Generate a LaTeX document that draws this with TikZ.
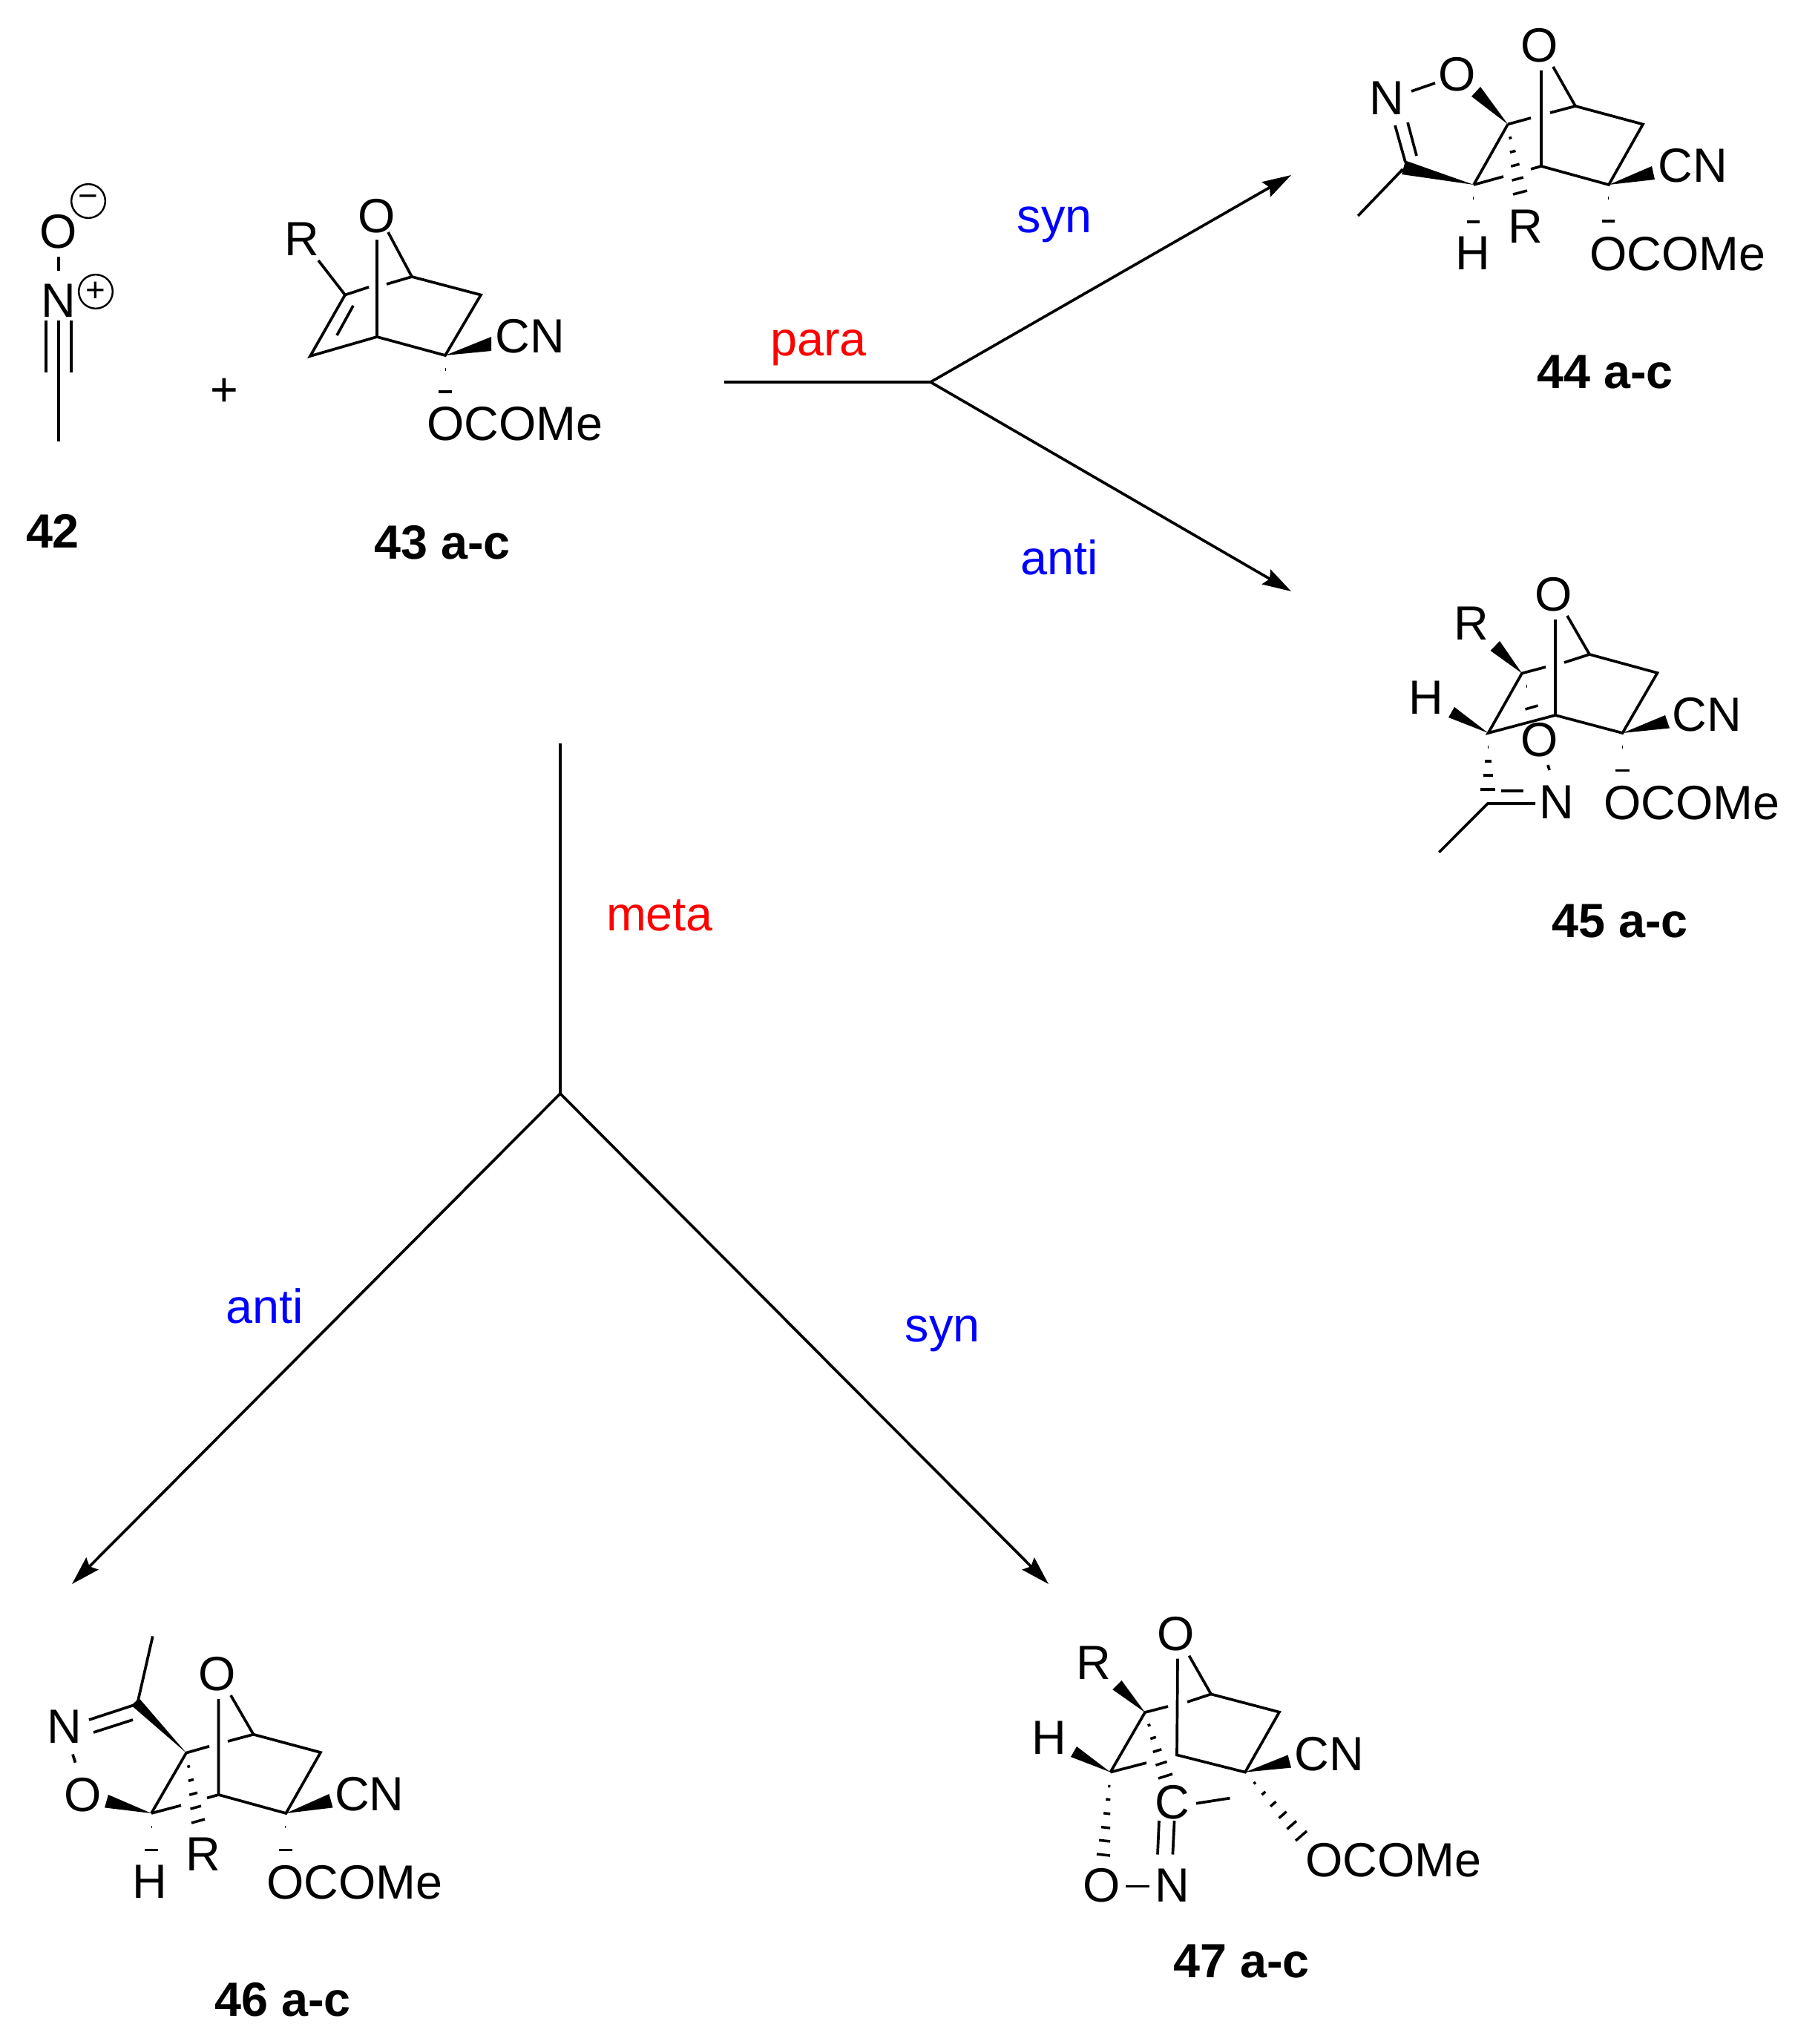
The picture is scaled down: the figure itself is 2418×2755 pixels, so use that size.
\documentclass[tikz,border=0pt]{standalone}
\usepackage{fontspec}
\setmainfont{Liberation Sans}
\usetikzlibrary{arrows.meta,calc}
\definecolor{chemred}{RGB}{255,0,0}
\definecolor{chemblue}{RGB}{0,0,255}
\tikzset{
  bond/.style={line width=1.05pt,line cap=butt,line join=miter,black},
  hashd/.style={line width=1pt,black},
  rxn/.style={line width=1.05pt,black},
  rxnarrow/.style={rxn,-{Stealth[length=11pt,width=6.5pt,inset=1.5pt]}},
  atom/.style={inner sep=0pt,outer sep=0pt,text height=13.2pt,text depth=0pt,font=\fontsize{18.4}{20}\selectfont},
  cmpd/.style={atom,font=\fontsize{18.4}{20}\selectfont\bfseries},
  par/.style={atom,text=chemred},
  sel/.style={atom,text=chemblue},
  charge/.style={circle,draw,line width=0.7pt,minimum size=13pt,inner sep=0pt,outer sep=0pt,font=\fontsize{13}{14}\selectfont},
}
\newcommand\wedgeb[3]{\fill[black] (#1) -- (#2) -- (#3) -- cycle;}
\newcommand\hashb[4]{\foreach \t in {#4}{\draw[hashd] ($(#1)!\t!(#2)$) -- ($(#1)!\t!(#3)$);}}
\begin{document}
\begin{tikzpicture}[x=0.01cm,y=-0.01cm]
\useasboundingbox (0,0) rectangle (2418,2755);
\fill[white] (0,0) rectangle (2418,2755);

% ---------- reaction scheme ----------
\coordinate (start) at (976,515);
\coordinate (forkA) at (1254,515);
\coordinate (t44) at (1740,236);
\coordinate (t45) at (1740,797);
\coordinate (startB) at (755,1002);
\coordinate (forkB) at (755,1474);
\coordinate (t46) at (97,2135);
\coordinate (t47) at (1413,2135);
\draw[rxn] (start) -- (forkA);
\draw[rxnarrow] (forkA) -- (t44);
\draw[rxnarrow] (forkA) -- (t45);
\draw[rxn] (startB) -- (forkB);
\draw[rxnarrow] (forkB) -- (t46);
\draw[rxnarrow] (forkB) -- (t47);
\node[par] (para) at (1103,456) {para};
\node[par] (meta) at (889,1231) {meta};
\node[sel] (syn1) at (1421,290) {syn};
\node[sel] (anti1) at (1428,751) {anti};
\node[sel] (anti2) at (357,1760) {anti};
\node[sel] (syn2) at (1270,1785) {syn};

% ---------- 42 ----------
\node[atom] (o42) at (78.5,311) {O};
\node[atom] (n42) at (78.5,404) {N};
\node[charge] (m42) at (119,271) {−};
\node[charge] (p42) at (129,393) {+};
\coordinate (c42) at (79,502);
\coordinate (me42) at (79,595);
\draw[bond] (79,346) -- (79,365);
\draw[bond] (62,432) -- (62,502);
\draw[bond] (79,432) -- (me42);
\draw[bond] (96,432) -- (96,502);
\node[cmpd] (l42) at (71,715) {42};
\node[atom] (plus) at (302.5,524) {+};

% ---------- 43 ----------
\node[atom] (o43) at (508,290) {O};
\node[atom] (r43) at (407,321) {R};
\node[atom] (cn43) at (714,452) {CN};
\node[atom] (ac43) at (694,570) {OCOMe};
\node[cmpd] (l43) at (596,730) {43 a-c};
\coordinate (a43) at (465,397.5);
\coordinate (f43) at (418,480);
\coordinate (e43) at (508,454);
\coordinate (b43) at (555,373);
\coordinate (c43) at (648,397.5);
\coordinate (d43) at (600,479);
\draw[bond] (429,351) -- (a43);
\draw[bond] (a43) -- (f43) -- (e43) -- (d43) -- (c43) -- (b43) -- (523,313);
\draw[bond] (476,412) -- (454,452);
\draw[bond] (508,323) -- (e43);
\draw[bond] (a43) -- (497,387);
\draw[bond] (521,383) -- (b43);
\wedgeb{d43}{662,454}{662,473}
\draw[hashd] (599.5,498) -- (600.5,498);
\draw[hashd] (591,528) -- (609,528);

% ---------- 44 ----------
\node[atom] (ot44) at (2075,60) {O};
\node[atom] (o44) at (1964,99) {O};
\node[atom] (n44) at (1869,131) {N};
\node[atom] (cn44) at (2281,222) {CN};
\node[atom] (ac44) at (2261,341) {OCOMe};
\node[atom] (h44) at (1985,340) {H};
\node[atom] (r44) at (2055.5,304) {R};
\node[cmpd] (l44) at (2163,500) {44 a-c};
\coordinate (a44) at (2032,167.5);
\coordinate (b44) at (2123,143);
\coordinate (c44) at (2214,167.5);
\coordinate (d44) at (2168,249);
\coordinate (e44) at (2077,224);
\coordinate (f44) at (1986,249);
\coordinate (g44) at (1890.5,228);
\coordinate (me44) at (1830,291);
\draw[bond] (2077,95) -- (e44) -- (d44) -- (c44) -- (b44) -- (2093,90);
\draw[bond] (e44) -- (2063,228);
\draw[bond] (f44) -- (2026,238);
\draw[bond] (a44) -- (f44);
\draw[bond] (a44) -- (2063,159);
\draw[bond] (2089,152) -- (b44);
\draw[bond] (1902,123) -- (1934,112);
\draw[bond] (1880,169) -- (1894,219);
\draw[bond] (1897,165) -- (1909,210);
\draw[bond] (g44) -- (me44);
\wedgeb{a44}{1983,130}{1995,117}
\wedgeb{f44}{1894,216.5}{1889,235}
\wedgeb{d44}{2226,224}{2230,242}
\hashb{a44}{2039,262}{2058,257}{0.2,0.4,0.6,0.8,1}
\draw[hashd] (1984.5,267) -- (1985.5,267);
\draw[hashd] (1977,299) -- (1994,299);
\draw[hashd] (2166.5,267) -- (2167.5,267);
\draw[hashd] (2159,298) -- (2176,298);

% ---------- 45 ----------
\node[atom] (ot45) at (2094,800) {O};
\node[atom] (r45) at (1983,839) {R};
\node[atom] (h45) at (1922,939.5) {H};
\node[atom] (cn45) at (2300,962) {CN};
\node[atom] (o45) at (2075,996) {O};
\node[atom] (n45) at (2098,1080) {N};
\node[atom] (ac45) at (2280,1081) {OCOMe};
\node[cmpd] (l45) at (2183,1240) {45 a-c};
\coordinate (a45) at (2051,907.5);
\coordinate (b45) at (2142,882);
\coordinate (c45) at (2233.5,907);
\coordinate (d45) at (2186.5,988);
\coordinate (e45) at (2096,964);
\coordinate (f45) at (2005.6,988);
\coordinate (g45) at (2005,1083);
\coordinate (me45) at (1939.4,1148.7);
\draw[bond] (2096,835) -- (e45) -- (d45) -- (c45) -- (b45) -- (2112,830);
\draw[bond] (e45) -- (f45) -- (a45) -- (2083,899);
\draw[bond] (2108,893) -- (b45);
\draw[bond] (me45) -- (g45) -- (2069,1083);
\draw[bond] (2023,1066) -- (2052.6,1066);
\draw[bond] (2086,1031) -- (2088,1038);
\wedgeb{a45}{2008.5,877}{2021,864}
\wedgeb{f45}{1952,967}{1960,953}
\wedgeb{d45}{2244,964}{2250,981.5}
\draw[hashd] (2005,1007) -- (2006,1007);
\draw[hashd] (2001,1026) -- (2010,1026);
\draw[hashd] (1999,1045) -- (2012,1045);
\draw[hashd] (1995,1064) -- (2015,1064);
\draw[hashd] (2056.5,925) -- (2057.5,925);
\draw[hashd] (2055.5,956) -- (2072.5,951);
\draw[hashd] (2186,1007) -- (2187,1007);
\draw[hashd] (2177,1038.6) -- (2196,1038.6);

% ---------- 46 ----------
\node[atom] (ot46) at (293,2255) {O};
\node[atom] (n46) at (87,2326.5) {N};
\node[atom] (o46) at (111.4,2418) {O};
\node[atom] (cn46) at (498,2417) {CN};
\node[atom] (r46) at (273.5,2498) {R};
\node[atom] (h46) at (202,2535) {H};
\node[atom] (ac46) at (478,2536) {OCOMe};
\node[cmpd] (l46) at (381,2694) {46 a-c};
\coordinate (a46) at (251,2362.6);
\coordinate (b46) at (341.5,2337.7);
\coordinate (c46) at (432,2362);
\coordinate (d46) at (385.4,2444);
\coordinate (e46) at (294.5,2419);
\coordinate (f46) at (204,2444);
\coordinate (g46) at (185,2296.7);
\coordinate (me46) at (205.8,2205.4);
\draw[bond] (294.5,2290) -- (e46) -- (d46) -- (c46) -- (b46) -- (311,2285);
\draw[bond] (e46) -- (279,2423.4);
\draw[bond] (f46) -- (244,2433.4);
\draw[bond] (f46) -- (a46) -- (282,2353.7);
\draw[bond] (307,2347) -- (b46);
\draw[bond] (g46) -- (me46);
\draw[bond] (120,2318) -- (g46);
\draw[bond] (126,2335) -- (179,2318);
\draw[bond] (98,2364.5) -- (101.5,2375.7);
\wedgeb{a46}{177,2298.5}{187.5,2289}
\wedgeb{f46}{141,2436.4}{146,2419}
\wedgeb{d46}{443.5,2418}{448.5,2436.4}
\hashb{a46}{258,2457}{276,2452}{0.2,0.4,0.6,0.8,1}
\draw[hashd] (203.5,2462.5) -- (204.5,2462.5);
\draw[hashd] (195,2493.4) -- (213,2493.4);
\draw[hashd] (384.2,2462.5) -- (385.2,2462.5);
\draw[hashd] (376,2493.4) -- (394,2493.4);

% ---------- 47 ----------
\node[atom] (ot47) at (1585,2201) {O};
\node[atom] (r47) at (1474,2240) {R};
\node[atom] (h47) at (1414,2341) {H};
\node[atom] (cn47) at (1791,2363) {CN};
\node[atom] (ct47) at (1580,2428) {C};
\node[atom] (ac47) at (1878,2506.5) {OCOMe};
\node[atom] (o47) at (1485,2540) {O};
\node[atom] (n47) at (1579.5,2540) {N};
\node[cmpd] (l47) at (1673,2642) {47 a-c};
\coordinate (a47) at (1543,2308);
\coordinate (b47) at (1632,2283.4);
\coordinate (c47) at (1724,2307.6);
\coordinate (d47) at (1678,2388.6);
\coordinate (e47) at (1586,2365.4);
\coordinate (f47) at (1496.4,2388.6);
\draw[bond] (1587,2235.6) -- (e47) -- (d47) -- (c47) -- (b47) -- (1602.5,2231.7);
\draw[bond] (f47) -- (1545,2376);
\draw[bond] (f47) -- (a47) -- (1574,2300);
\draw[bond] (1600,2294) -- (b47);
\draw[bond] (1612,2430.7) -- (1657.5,2423.6);
\draw[bond] (1562,2454) -- (1560,2499.5);
\draw[bond] (1582.6,2454) -- (1580.4,2499.5);
\draw[bond] (1517,2542.4) -- (1549,2542.4);
\wedgeb{a47}{1499.4,2277.3}{1511.5,2265}
\wedgeb{f47}{1443,2368}{1451,2354}
\wedgeb{d47}{1735.5,2365.4}{1740,2382.6}
\hashb{f47}{1478,2499}{1496,2501}{0.17,0.33,0.5,0.67,0.83,1}
\hashb{a47}{1561,2397}{1580,2391}{0.2,0.4,0.6,0.8,1}
\hashb{d47}{1746,2481}{1761,2468}{0.17,0.33,0.5,0.67,0.83,1}
\end{tikzpicture}
\end{document}
